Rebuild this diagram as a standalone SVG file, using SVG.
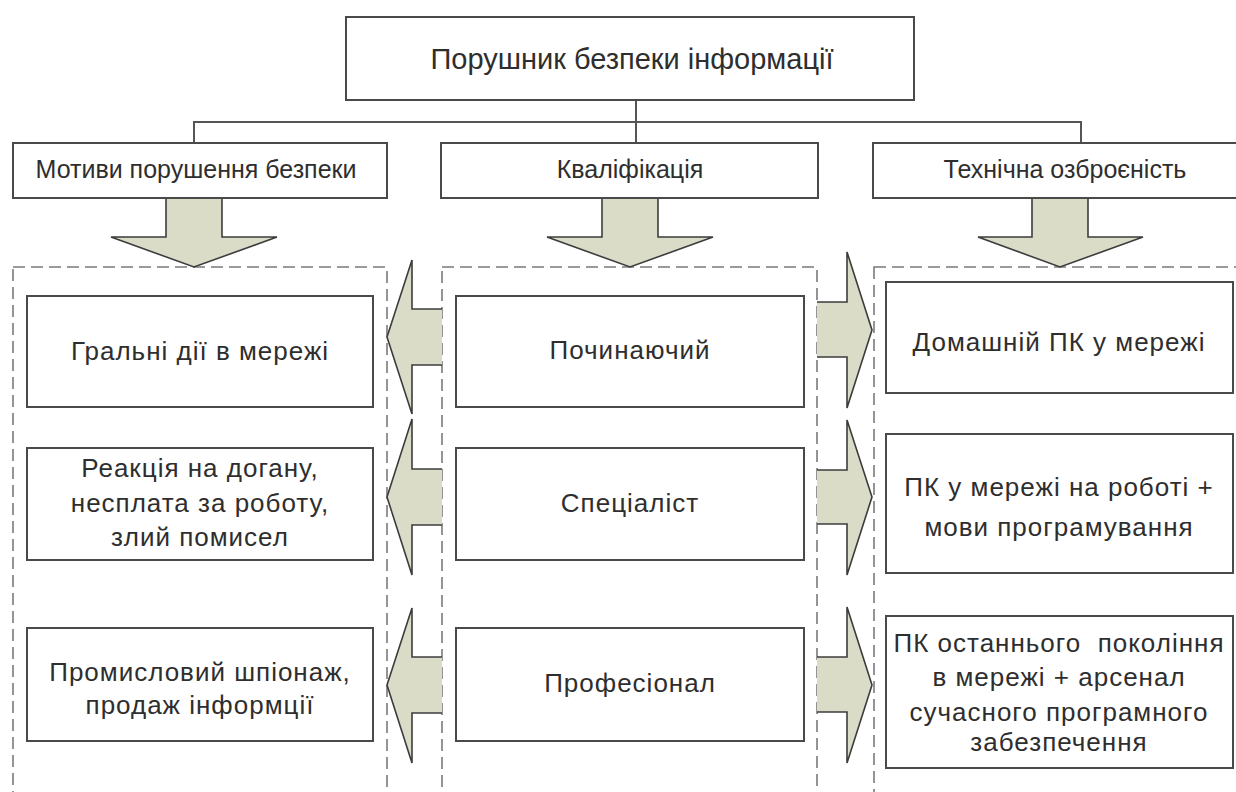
<svg xmlns="http://www.w3.org/2000/svg" width="1236" height="792" viewBox="0 0 1236 792">
<style>
.box{fill:#fff;stroke:#4a4a4a;stroke-width:2}
.dash{fill:none;stroke:#7a7a7a;stroke-width:1.6;stroke-dasharray:12 6}
.arr{fill:#dadcc8;stroke:#3c3c3c;stroke-width:1.6;stroke-linejoin:miter}
.con{fill:none;stroke:#555;stroke-width:2}
text{font-family:"Liberation Sans",Arial,sans-serif;fill:#2e2e2e;text-anchor:middle}
.t1{font-size:29px}
.t2{font-size:25px}
.t3{font-size:26px;letter-spacing:1px}
</style>
<rect width="1236" height="792" fill="#fff"/>
<g id="containers">
<rect class="dash" x="13" y="267" width="374" height="560"/>
<rect class="dash" x="442" y="267" width="375" height="560"/>
<rect class="dash" x="874" y="267" width="400" height="560"/>
</g>
<g id="connectors">
<path class="con" d="M636,100 V143 M194,143 V122 H1081 V143"/>
<path class="arr" d="M166,198 V237 H111 L194,267 L277,237 H222 V198"/>
<path class="arr" d="M602,198 V237 H547 L630,267 L713,237 H658 V198"/>
<path class="arr" d="M1032,198 V237 H978 L1060,267 L1143,237 H1088 V198"/>
<path class="arr" d="M442,309 H412 V260 L387,337 L412,414 V365 H442"/>
<path class="arr" d="M442,469 H412 V419 L387,497 L412,575 V525 H442"/>
<path class="arr" d="M442,657 H412 V608 L387,685 L412,763 V713 H442"/>
<path class="arr" d="M817,302 H847 V252 L872,330 L847,408 V357 H817"/>
<path class="arr" d="M817,470 H847 V420 L872,497 L847,575 V524 H817"/>
<path class="arr" d="M817,657 H847 V607 L872,685 L847,763 V712 H817"/>
</g>
<g id="root">
<rect class="box" x="346" y="17" width="568" height="83"/>
<text class="t1" x="632" y="69">Порушник безпеки інформації</text>
</g>
<g id="motives">
<rect class="box" x="13" y="143" width="374" height="55"/>
<text class="t2" x="196" y="178">Мотиви порушення безпеки</text>
</g>
<g id="qualification">
<rect class="box" x="441" y="143" width="377" height="55"/>
<text class="t2" x="630" y="178">Кваліфікація</text>
</g>
<g id="equipment">
<rect class="box" x="873" y="143" width="380" height="55"/>
<text class="t2" x="1065" y="178">Технічна озброєність</text>
</g>
<g id="m1">
<rect class="box" x="27" y="296" width="346" height="111"/>
<text class="t3" x="200" y="360">Гральні дії в мережі</text>
</g>
<g id="m2">
<rect class="box" x="27" y="448" width="346" height="112"/>
<text class="t3" x="200" y="477">Реакція на догану,</text>
<text class="t3" x="200" y="512">несплата за роботу,</text>
<text class="t3" x="200" y="546">злий помисел</text>
</g>
<g id="m3">
<rect class="box" x="27" y="628" width="346" height="113"/>
<text class="t3" x="200" y="681">Промисловий шпіонаж,</text>
<text class="t3" x="200" y="714">продаж інформції</text>
</g>
<g id="q1">
<rect class="box" x="456" y="296" width="348" height="111"/>
<text class="t3" x="630" y="359">Починаючий</text>
</g>
<g id="q2">
<rect class="box" x="456" y="448" width="348" height="112"/>
<text class="t3" x="630" y="512">Спеціаліст</text>
</g>
<g id="q3">
<rect class="box" x="456" y="628" width="348" height="113"/>
<text class="t3" x="630" y="692">Професіонал</text>
</g>
<g id="e1">
<rect class="box" x="886" y="282" width="347" height="111"/>
<text class="t3" x="1059" y="351">Домашній ПК у мережі</text>
</g>
<g id="e2">
<rect class="box" x="886" y="434" width="347" height="139"/>
<text class="t3" x="1059" y="496">ПК у мережі на роботі +</text>
<text class="t3" x="1059" y="536">мови програмування</text>
</g>
<g id="e3">
<rect class="box" x="886" y="616" width="347" height="152"/>
<text class="t3" x="1059" y="652" xml:space="preserve">ПК останнього  покоління</text>
<text class="t3" x="1059" y="686">в мережі + арсенал</text>
<text class="t3" x="1059" y="721">сучасного програмного</text>
<text class="t3" x="1059" y="751">забезпечення</text>
</g>
</svg>
